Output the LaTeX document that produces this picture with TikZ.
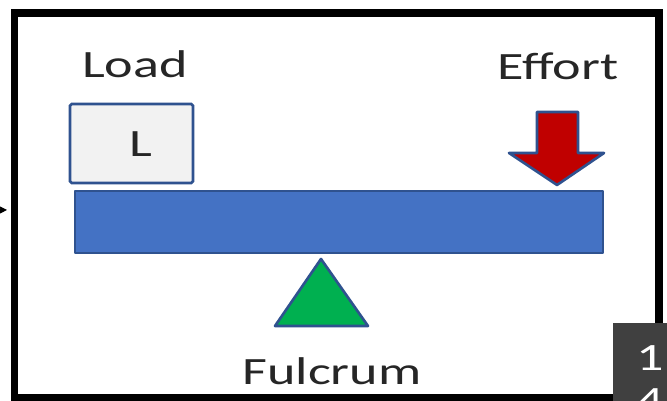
\documentclass[tikz,border=0pt]{standalone}
\usepackage{fontspec}
\setmainfont{Carlito}
\usetikzlibrary{arrows.meta}
\definecolor{beamblue}{HTML}{4472C4}
\definecolor{edgeblue}{HTML}{2F528F}
\definecolor{boxgray}{HTML}{F2F2F2}
\definecolor{effred}{HTML}{C00000}
\definecolor{fulgreen}{HTML}{00B050}
\definecolor{darkbox}{HTML}{404040}
\tikzset{
  lbl/.style={inner sep=0pt, anchor=base, font=\fontsize{22}{26}\selectfont, text=black!85},
  shapeedge/.style={draw=edgeblue, line width=1.5pt, line join=round},
}
\newcommand{\wide}[1]{\scalebox{1.4}[1]{#1}}
\begin{document}
\begin{tikzpicture}[x=0.02cm,y=-0.02cm]
\useasboundingbox (0,0) rectangle (667,401);
\fill[white] (0,0) rectangle (667,401);
% frame
\draw[line width=4pt] (14.5,13) rectangle (659,397.5);
% beam
\node[shapeedge, fill=beamblue, rectangle, inner sep=0pt, minimum width=528*0.02cm, minimum height=62*0.02cm] (beam) at (339,222) {};
% load box
\node[draw=edgeblue, line width=1.5pt, fill=boxgray, rounded corners=1pt, inner sep=0pt, minimum width=123*0.02cm, minimum height=79*0.02cm] (load) at (131.5,143.5) {};
\node[lbl] (L) at (141,157) {\wide{L}};
% labels
\node[lbl] (loadlbl) at (135,78) {\wide{Load}};
\node[lbl] (effortlbl) at (558,80) {\wide{Effort}};
\node[lbl] (fulcrumlbl) at (332,385) {\wide{Fulcrum}};
% effort arrow
\coordinate (efftip) at (557,185);
\filldraw[shapeedge, fill=effred] (537,112) -- (578,112) -- (578,153) -- (604,153) -- (efftip) -- (509,153) -- (537,153) -- cycle;
% fulcrum
\coordinate (apex) at (321,259);
\filldraw[shapeedge, fill=fulgreen] (apex) -- (368,326) -- (275,326) -- cycle;
% small arrow at left
\coordinate (la) at (-2,210);
\coordinate (lb) at (7,210);
\draw[line width=0.6pt, -{Stealth[length=5pt,width=5pt]}] (la) -- (lb);
% page number box
\begin{scope}
\clip (0,0) rectangle (667,401);
\fill[darkbox] (613,323) rectangle (667,405);
\node[lbl, text=white] (n1) at (650,371) {\wide{1}};
\node[lbl, text=white] (n4) at (650,414) {\wide{4}};
\end{scope}
\end{tikzpicture}
\end{document}
